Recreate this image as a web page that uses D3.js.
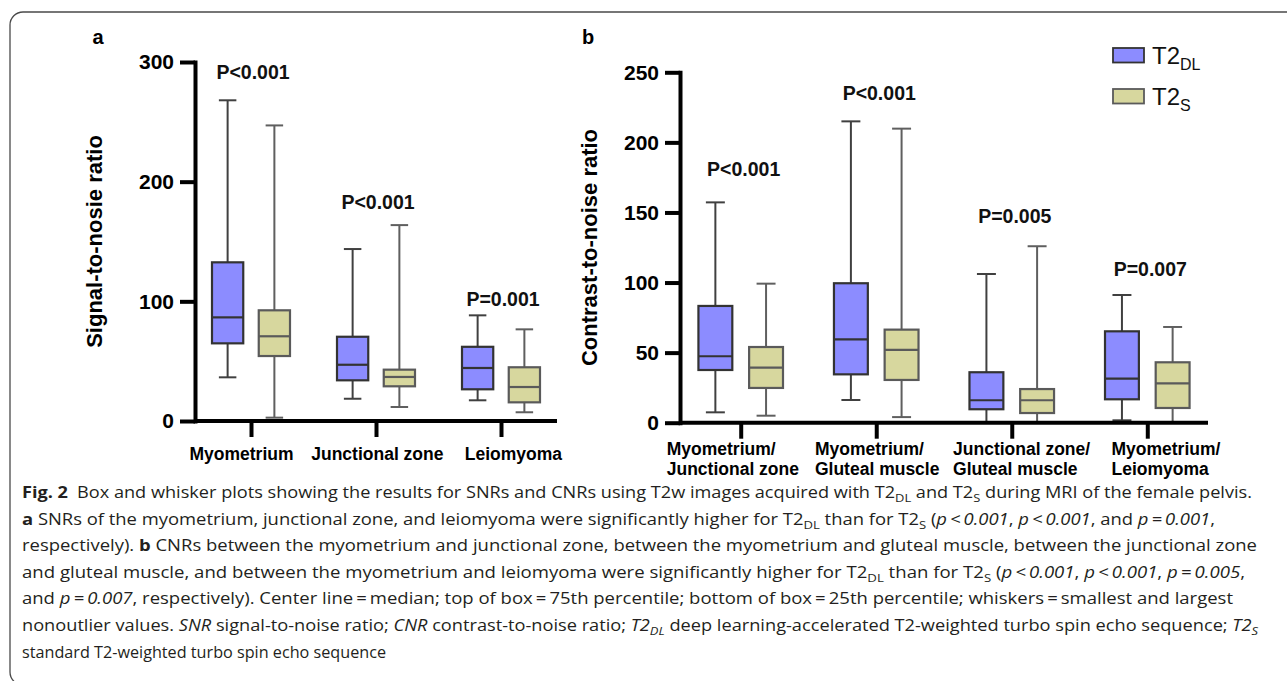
<!DOCTYPE html>
<html>
<head>
<meta charset="utf-8">
<script src="https://cdn.jsdelivr.net/npm/d3@7/dist/d3.min.js"></script>
<style>
  html, body { margin: 0; padding: 0; background: #fff; }
  svg { display: block; }
</style>
</head>
<body>
<svg id="chart" width="1287" height="681"></svg>
<script>
// ---------------- DATA ----------------
const seriesNames = ["T2DL", "T2S"];
const seriesSub = ["DL", "S"];

// panel a: Signal-to-noise ratio, each entry = [min, q1, median, q3, max]
const snrCategories = ["Myometrium", "Junctional zone", "Leiomyoma"];
const snrT2DL = [
  [36.5, 64.9, 86.6, 132.6, 268],
  [18.6, 34.0, 47.0, 70.4, 143.7],
  [17.3, 26.5, 44.3, 62.0, 88.3]
];
const snrT2S = [
  [2.8, 54.3, 70.8, 92.5, 247],
  [11.7, 29.0, 36.8, 42.9, 163.7],
  [7.3, 15.6, 28.4, 44.9, 76.6]
];
const snrPLabels = ["P<0.001", "P<0.001", "P=0.001"];
const snrPAnchor = [292, 183, 102];
const snrTicks = [0, 100, 200, 300];

// panel b: Contrast-to-noise ratio
const cnrCategories = [
  ["Myometrium/", "Junctional zone"],
  ["Myometrium/", "Gluteal muscle"],
  ["Junctional zone/", "Gluteal muscle"],
  ["Myometrium/", "Leiomyoma"]
];
const cnrT2DL = [
  [7.4, 37.6, 47.4, 83.3, 157.2],
  [16.2, 34.5, 59.5, 99.5, 215],
  [0.5, 9.6, 16.0, 36.0, 106.1],
  [1.7, 16.7, 31.4, 65.2, 91.1]
];
const cnrT2S = [
  [5.0, 24.8, 39.3, 54.0, 99.2],
  [4.0, 30.5, 51.9, 66.4, 209.8],
  [0.5, 6.9, 16.0, 24.0, 125.9],
  [0.5, 10.5, 28.1, 43.1, 68.3]
];
const cnrPLabels = ["P<0.001", "P<0.001", "P=0.005", "P=0.007"];
const cnrPAnchor = [181, 235, 147.5, 109.5];
const cnrTicks = [0, 50, 100, 150, 200, 250];

// caption
const captionLines = [
  [{t:"Fig. 2", b:1}, {t:"\u2002Box and whisker plots showing the results for SNRs and CNRs using T2w images acquired with T2"}, {t:"DL", sub:1}, {t:" and T2"}, {t:"S", sub:1}, {t:" during MRI of the female pelvis."}],
  [{t:"a", b:1}, {t:" SNRs of the myometrium, junctional zone, and leiomyoma were significantly higher for T2"}, {t:"DL", sub:1}, {t:" than for T2"}, {t:"S", sub:1}, {t:" ("}, {t:"p\u2009<\u20090.001", i:1}, {t:", "}, {t:"p\u2009<\u20090.001", i:1}, {t:", and "}, {t:"p\u2009=\u20090.001", i:1}, {t:","}],
  [{t:"respectively). "}, {t:"b", b:1}, {t:" CNRs between the myometrium and junctional zone, between the myometrium and gluteal muscle, between the junctional zone"}],
  [{t:"and gluteal muscle, and between the myometrium and leiomyoma were significantly higher for T2"}, {t:"DL", sub:1}, {t:" than for T2"}, {t:"S", sub:1}, {t:" ("}, {t:"p\u2009<\u20090.001", i:1}, {t:", "}, {t:"p\u2009<\u20090.001", i:1}, {t:", "}, {t:"p\u2009=\u20090.005", i:1}, {t:","}],
  [{t:"and "}, {t:"p\u2009=\u20090.007", i:1}, {t:", respectively). Center line\u2009=\u2009median; top of box\u2009=\u200975th percentile; bottom of box\u2009=\u200925th percentile; whiskers\u2009=\u2009smallest and largest"}],
  [{t:"nonoutlier values. "}, {t:"SNR", i:1}, {t:" signal-to-noise ratio; "}, {t:"CNR", i:1}, {t:" contrast-to-noise ratio; "}, {t:"T2", i:1}, {t:"DL", i:1, sub:1}, {t:" deep learning-accelerated T2-weighted turbo spin echo sequence; "}, {t:"T2", i:1}, {t:"S", i:1, sub:1}],
  [{t:"standard T2-weighted turbo spin echo sequence"}]
];
const captionWidths = [1230, 1193, 1235, 1223, 1211, 1236, null];

// ---------------- STYLE ----------------
const fills = ["#8c8cff", "#d7d79e"];
const boxStroke = ["#333333", "#5a5a5a"];
const whiskerStroke = ["#404040", "#5f5f5f"];
const axisFont = "'Liberation Sans', Arial, sans-serif";

const svg = d3.select("#chart");

// frame
svg.append("rect")
  .attr("x", 10).attr("y", 12)
  .attr("width", 1400).attr("height", 673)
  .attr("rx", 13).attr("ry", 13)
  .attr("fill", "none").attr("stroke", "#4a4a4a").attr("stroke-width", 1.3);

function drawPanel(opt) {
  const g = svg.append("g");
  const y = d3.scaleLinear().domain(opt.domain).range(opt.yRange);
  const x = d3.scalePoint().domain(d3.range(opt.cats.length)).range(opt.xRange).padding(0.448);
  const step = x.step();
  const inner = d3.scaleBand().domain(seriesNames)
    .range([-0.312 * step, 0.312 * step]).paddingInner(0.3316).paddingOuter(0);
  const bw = inner.bandwidth();
  const capW = bw * 0.56;

  // boxes
  const seriesData = [opt.s1, opt.s2];
  seriesNames.forEach((sn, si) => {
    seriesData[si].forEach((d, ci) => {
      const cx = x(ci) + inner(sn) + bw / 2;
      const bg = g.append("g");
      bg.append("line").attr("x1", cx).attr("x2", cx)
        .attr("y1", y(d[0])).attr("y2", y(d[4]))
        .attr("stroke", whiskerStroke[si]).attr("stroke-width", 2);
      [d[0], d[4]].forEach(v => {
        bg.append("line").attr("x1", cx - capW / 2).attr("x2", cx + capW / 2)
          .attr("y1", y(v)).attr("y2", y(v))
          .attr("stroke", whiskerStroke[si]).attr("stroke-width", 2);
      });
      bg.append("rect").attr("x", cx - bw / 2).attr("width", bw)
        .attr("y", y(d[3])).attr("height", y(d[1]) - y(d[3]))
        .attr("fill", fills[si]).attr("stroke", boxStroke[si]).attr("stroke-width", 2.2);
      bg.append("line").attr("x1", cx - bw / 2).attr("x2", cx + bw / 2)
        .attr("y1", y(d[2])).attr("y2", y(d[2]))
        .attr("stroke", boxStroke[si]).attr("stroke-width", 2.2);
    });
  });

  // y axis
  const ya = g.append("g").attr("transform", `translate(${opt.xRange[0]},0)`)
    .call(d3.axisLeft(y).tickValues(opt.ticks).tickSize(15).tickSizeOuter(0).tickPadding(6));
  ya.select(".domain").attr("stroke", "#000").attr("stroke-width", 4).attr("stroke-linecap", "square");
  ya.selectAll(".tick line").attr("stroke", "#000").attr("stroke-width", 4);
  ya.selectAll(".tick text").attr("font-family", axisFont).attr("font-weight", "bold")
    .attr("font-size", 21).attr("fill", "#000");

  // x axis baseline
  g.append("line").attr("x1", opt.xRange[0]).attr("x2", opt.xRange[1])
    .attr("y1", y(0)).attr("y2", y(0))
    .attr("stroke", "#000").attr("stroke-width", 4);
  const xa = g.append("g").attr("transform", `translate(0,${y(0)})`)
    .call(d3.axisBottom(x).tickSize(16).tickSizeOuter(0).tickFormat(""));
  xa.select(".domain").remove();
  xa.selectAll(".tick line").attr("stroke", "#000").attr("stroke-width", 4);

  // category labels (spread slightly wider than ticks, as in original)
  const mid = (x(0) + x(opt.cats.length - 1)) / 2;
  opt.cats.forEach((c, ci) => {
    const lines = Array.isArray(c) ? c : [c];
    const lx = mid + opt.labelShift + (x(ci) - mid) * opt.labelSpread;
    const t = g.append("text")
      .attr("font-family", axisFont).attr("font-weight", "bold")
      .attr("font-size", 17.5).attr("fill", "#000");
    lines.forEach((ln, li) => {
      t.append("tspan").attr("x", 0).attr("y", opt.labelY + li * 19.5).text(ln);
    });
    const w = t.node().getBBox().width;
    t.attr("transform", `translate(${lx - w / 2},0)`);
  });

  // p-value labels
  opt.pLabels.forEach((p, ci) => {
    g.append("text").attr("x", x(ci) + opt.pShift).attr("y", y(opt.pAnchor[ci]))
      .attr("dy", "0.36em").attr("text-anchor", "middle")
      .attr("font-family", axisFont).attr("font-weight", "bold")
      .attr("font-size", 19.5).attr("fill", "#111").text(p);
  });

  // y title
  g.append("text")
    .attr("transform", `translate(${opt.titleX},${(opt.yRange[0] + opt.yRange[1]) / 2}) rotate(-90)`)
    .attr("text-anchor", "middle")
    .attr("font-family", axisFont).attr("font-weight", "bold")
    .attr("font-size", 22).attr("fill", "#000").text(opt.title);

  // panel letter
  g.append("text").attr("x", opt.letterX).attr("y", 44)
    .attr("text-anchor", "middle")
    .attr("font-family", axisFont).attr("font-weight", "bold")
    .attr("font-size", 20).attr("fill", "#000").text(opt.letter);
}

drawPanel({
  cats: snrCategories, s1: snrT2DL, s2: snrT2S,
  domain: [0, 300], yRange: [421, 62], xRange: [195, 557],
  ticks: snrTicks, pLabels: snrPLabels, pAnchor: snrPAnchor, pShift: 2,
  labelY: 460, labelSpread: 1.088, labelShift: 1.5,
  title: "Signal-to-nosie ratio", titleX: 102, letter: "a", letterX: 98
});

drawPanel({
  cats: cnrCategories, s1: cnrT2DL, s2: cnrT2S,
  domain: [0, 250], yRange: [422.7, 72.3], xRange: [680, 1208],
  ticks: cnrTicks, pLabels: cnrPLabels, pAnchor: cnrPAnchor, pShift: 3,
  labelY: 455, labelSpread: 1.065, labelShift: 5.5,
  title: "Contrast-to-noise ratio", titleX: 597, letter: "b", letterX: 588
});

// legend
const legend = svg.append("g");
seriesNames.forEach((sn, i) => {
  const ly = 48 + i * 41;
  legend.append("rect").attr("x", 1113).attr("y", ly).attr("width", 31).attr("height", 14.5)
    .attr("fill", fills[i]).attr("stroke", boxStroke[i]).attr("stroke-width", 1.8);
  const t = legend.append("text").attr("x", 1152).attr("y", ly + 16)
    .attr("font-family", axisFont).attr("font-size", 24).attr("fill", "#111");
  t.append("tspan").text("T2");
  t.append("tspan").attr("dy", 6).attr("font-size", 16).text(seriesSub[i]);
});

// caption
const capFont = "'Open Sans', 'Noto Sans', sans-serif";
captionLines.forEach((line, li) => {
  const t = svg.append("text").attr("x", 22).attr("y", 498 + li * 26.6)
    .attr("font-family", capFont).attr("font-size", 16.2).attr("fill", "#231f20");
  let shifted = 0;
  line.forEach(seg => {
    const ts = t.append("tspan").text(seg.t);
    if (seg.b) ts.attr("font-weight", "bold");
    if (seg.i) ts.attr("font-style", "italic");
    if (seg.sub) { ts.attr("font-size", 11.5).attr("dy", 4 - shifted); shifted = 4; }
    else if (shifted) { ts.attr("dy", -shifted); shifted = 0; }
  });
  if (captionWidths[li]) t.attr("textLength", captionWidths[li]).attr("lengthAdjust", "spacingAndGlyphs");
});
</script>
</body>
</html>
